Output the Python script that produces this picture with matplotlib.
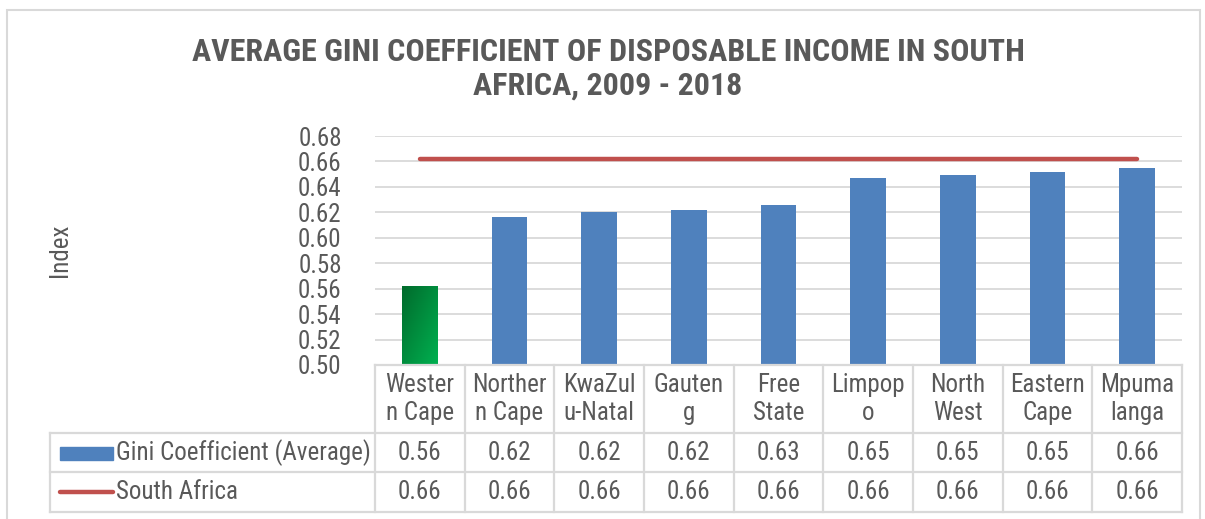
import matplotlib

matplotlib.use("Agg")
import matplotlib.pyplot as plt
import numpy as np
from matplotlib.colors import LinearSegmentedColormap
from matplotlib.lines import Line2D
from matplotlib.patches import Rectangle

# data
provinces = ["Western Cape", "Northern Cape", "KwaZulu-Natal", "Gauteng", "Free State",
             "Limpopo", "North West", "Eastern Cape", "Mpumalanga"]
header_labels = ["Wester\nn Cape", "Norther\nn Cape", "KwaZul\nu-Natal", "Gauten\ng", "Free\nState",
                 "Limpop\no", "North\nWest", "Eastern\nCape", "Mpuma\nlanga"]
gini_avg = [0.562, 0.616, 0.620, 0.622, 0.626, 0.647, 0.649, 0.652, 0.655]
south_africa = [0.662] * 9
y_ticks = [0.50, 0.52, 0.54, 0.56, 0.58, 0.60, 0.62, 0.64, 0.66, 0.68]

GRAY = "#595959"
GRID = "#D9D9D9"
BLUE = "#4F81BD"
RED = "#C0504D"
FS = 18

plt.rcParams["font.family"] = ["Roboto Condensed", "Liberation Sans", "DejaVu Sans"]

W, H = 1205, 519
fig = plt.figure(figsize=(W / 100, H / 100), dpi=100)


def fx(p):
    return p / W


def fy(p):
    return 1 - p / H


ax = fig.add_axes([fx(375), fy(365), fx(1182) - fx(375), fy(136) - fy(365)])
x = np.arange(len(provinces))
bars = ax.bar(x, gini_avg, width=0.4, color=BLUE, zorder=2)

# gradient green fill for Western Cape
b = bars[0]
b.set_facecolor("none")
b.set_edgecolor("none")
gx, gy = np.meshgrid(np.linspace(0, 1, 50), np.linspace(0, 1, 50))
grad = (gx + gy) / 2
cmap = LinearSegmentedColormap.from_list("g", ["#006B2C", "#00B050"])
bx0 = b.get_x()
ax.imshow(grad, cmap=cmap, extent=[bx0, bx0 + b.get_width(), 0.5, gini_avg[0]],
          origin="upper", aspect="auto", zorder=2)

ax.plot(x, south_africa, color=RED, linewidth=3.2, solid_capstyle="round", zorder=3)

ax.set_xlim(-0.5, len(provinces) - 0.5)
ax.set_ylim(0.50, 0.68)
ax.set_yticks(y_ticks)
ax.set_yticklabels([f"{v:.2f}" for v in y_ticks])
ax.set_xticks([])
ax.tick_params(axis="y", length=0, labelsize=FS, labelcolor=GRAY, pad=24)
ax.grid(axis="y", color=GRID, linewidth=1.3, zorder=0)
ax.set_axisbelow(True)
for s in ax.spines.values():
    s.set_visible(False)

fig.text(fx(60), fy(250), "Index", rotation=90, ha="center", va="center",
         fontsize=18, color=GRAY)
fig.text(fx(608), fy(69), "AVERAGE GINI COEFFICIENT OF DISPOSABLE INCOME IN SOUTH\nAFRICA, 2009 - 2018",
         ha="center", va="center", fontsize=23, fontweight="bold", color=GRAY, linespacing=1.15)

# data table under the chart
to_fig = ax.transData + fig.transFigure.inverted()


def col_x(v):
    return to_fig.transform((v, 0.5))[0]


row_y = [365, 433, 472, 512]
leg_left = fx(50)
right = col_x(len(provinces) - 0.5)
lines = [Line2D([col_x(-0.5), right], [fy(365), fy(365)])]
for p in row_y[1:]:
    lines.append(Line2D([leg_left, right], [fy(p), fy(p)]))
for i in range(len(provinces) + 1):
    lines.append(Line2D([col_x(i - 0.5)] * 2, [fy(365), fy(512)]))
lines.append(Line2D([leg_left] * 2, [fy(433), fy(512)]))
for ln in lines:
    ln.set_color(GRID)
    ln.set_linewidth(1.6)
    fig.add_artist(ln)

for i, lab in enumerate(header_labels):
    fig.text(col_x(i), fy(399), lab, ha="center", va="center", fontsize=FS,
             color=GRAY, linespacing=1.2)
    fig.text(col_x(i), fy(453), f"{gini_avg[i]:.2f}", ha="center", va="center",
             fontsize=FS, color=GRAY)
    fig.text(col_x(i), fy(492), f"{south_africa[i]:.2f}", ha="center", va="center",
             fontsize=FS, color=GRAY)

fig.add_artist(Rectangle((fx(60), fy(460)), fx(53), fy(447) - fy(460),
                         transform=fig.transFigure, color=BLUE))
fig.add_artist(Line2D([fx(60), fx(113)], [fy(492), fy(492)], color=RED, linewidth=3.2,
                      solid_capstyle="round"))
fig.text(fx(116), fy(453), "Gini Coefficient (Average)", ha="left", va="center",
         fontsize=FS, color=GRAY)
fig.text(fx(116), fy(492), "South Africa", ha="left", va="center", fontsize=FS, color=GRAY)

# chart border
fig.add_artist(Rectangle((fx(7), fy(530)), fx(1200) - fx(7), fy(10) - fy(530),
                         transform=fig.transFigure, fill=False, edgecolor=GRID, linewidth=1.5))

fig.savefig("out.png", dpi=100)
